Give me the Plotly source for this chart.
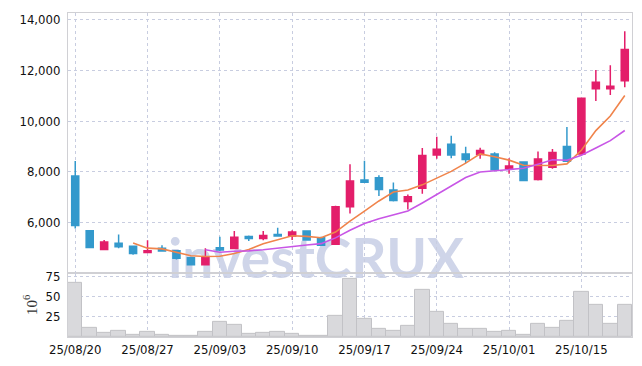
import plotly.graph_objects as go
from plotly.subplots import make_subplots

dates = ["25/08/20","25/08/21","25/08/22","25/08/25","25/08/26","25/08/27","25/08/28","25/08/29",
         "25/09/01","25/09/02","25/09/03","25/09/04","25/09/05","25/09/08","25/09/09","25/09/10",
         "25/09/11","25/09/12","25/09/15","25/09/16","25/09/17","25/09/18","25/09/19","25/09/22",
         "25/09/23","25/09/24","25/09/25","25/09/26","25/09/29","25/09/30","25/10/01","25/10/02",
         "25/10/10","25/10/13","25/10/14","25/10/15","25/10/16","25/10/17","25/10/20"]

open_ = [7830,5660,4920,5170,5050,4800,4970,4870,4600,4320,4990,4960,5440,5360,5520,5460,
         5650,5390,5130,6610,7670,7760,7280,6820,7340,8660,9080,8700,8680,8700,8120,8380,
         7690,8170,9000,8700,11280,11280,11590]
high = [8420,5690,5300,5520,5080,5290,5090,4900,4640,4970,5430,5650,5480,5650,5780,5680,
        5680,5430,6650,8290,8430,7860,7570,7100,8940,9380,9420,8990,8950,8770,8530,8400,
        8800,8900,9770,10920,12020,12210,13550]
low = [5750,4970,4900,4970,4720,4780,4830,4530,4300,4320,4860,4930,5260,5290,5440,5300,
       5290,5060,5100,6350,7550,7040,6820,6500,7130,8510,8530,8340,8510,8040,7920,7640,
       7650,8120,8380,8680,10790,11030,11340]
close = [5870,5000,5220,5030,4760,4870,4860,4580,4320,4610,4900,5410,5360,5480,5460,5610,
         5300,5090,6610,7630,7580,7300,6860,7010,8640,8890,8660,8480,8840,8080,8220,7650,
         8500,8760,8410,10900,11540,11380,12830]

ma5 = [None,None,None,None,5176,4976,4948,4820,4678,4648,4654,4764,4920,5152,5322,5464,
       5442,5388,5614,6048,6442,6842,7196,7276,7478,7740,8012,8336,8702,8590,8456,8254,
       8258,8242,8308,8844,9622,10198,11012]
ma10 = [None]*9 + [4912,4815,4856,4870,4915,4985,5059,5103,5154,5383,5685,5953,6142,6292,
       6445,6763,7091,7427,7766,7989,8034,8098,8133,8297,8472,8449,8650,8938,9228,9627]

volume = [67,11,4.9,7.7,2.4,6.5,2.4,1.2,1.2,6.1,18.7,14.6,4,5.2,6.5,4,1.2,1.2,26,72,22.3,
          9.8,7.7,13.8,58.5,30.5,15.8,9.8,9.8,6.1,7.3,3.2,15.8,11,19.5,56,39.4,15.8,39.4]

price_ticks = [6000, 8000, 10000, 12000, 14000]
price_tick_text = ["6,000", "8,000", "10,000", "12,000", "14,000"]
vol_ticks = [25, 50, 75]
tick_idx = [0, 5, 10, 15, 20, 25, 30, 35]
watermark = "investCRUX"

idx = list(range(len(dates)))

fig = make_subplots(rows=2, cols=1, shared_xaxes=True, vertical_spacing=0,
                    row_heights=[0.802, 0.198])

fig.add_trace(go.Candlestick(x=idx, open=open_, high=high, low=low, close=close,
                             increasing=dict(line=dict(color="#e31e6a", width=1.5), fillcolor="#e31e6a"),
                             decreasing=dict(line=dict(color="#3399cc", width=1.5), fillcolor="#3399cc"),
                             showlegend=False), row=1, col=1)
fig.add_trace(go.Scatter(x=idx, y=ma5, mode="lines", line=dict(color="#f0844c", width=1.6),
                         showlegend=False), row=1, col=1)
fig.add_trace(go.Scatter(x=idx, y=ma10, mode="lines", line=dict(color="#c856e6", width=1.6),
                         showlegend=False), row=1, col=1)
fig.add_trace(go.Bar(x=idx, y=volume, marker=dict(color="#d9d9dc", line=dict(color="#c2c2c6", width=1)),
                     showlegend=False), row=2, col=1)

# watermark drawn below the traces
fig.add_shape(type="rect", xref="paper", yref="paper", x0=0.14, x1=0.74, y0=0.15, y1=0.35,
              line=dict(width=0), fillcolor="rgba(0,0,0,0)", layer="below",
              label=dict(text=watermark, textposition="middle center",
                         font=dict(family="Lato, DejaVu Sans, sans-serif", size=55,
                                   color="#cfd5e9", weight="bold")))

tickfont = dict(family="DejaVu Sans Condensed, Roboto, sans-serif", size=13, color="#111111")
grid = dict(showgrid=True, gridcolor="#c8cde0", griddash="dot", gridwidth=1)
frame = dict(showline=True, linecolor="#d0d0d4", linewidth=1, mirror=True, zeroline=False)

fig.update_xaxes(range=[-0.5, 38.5], tickmode="array", tickvals=tick_idx,
                 ticktext=[dates[i] for i in tick_idx], rangeslider_visible=False,
                 tickfont=tickfont, **grid, **frame)
fig.update_xaxes(showticklabels=False, row=1, col=1)
fig.update_yaxes(range=[4000, 14273], tickmode="array", tickvals=price_ticks,
                 ticktext=price_tick_text, tickfont=tickfont, ticklabelstandoff=4,
                 **grid, **frame, row=1, col=1)
fig.update_yaxes(range=[0, 79.1], tickmode="array", tickvals=vol_ticks, tickfont=tickfont,
                 ticklabelstandoff=4, title=dict(text="10<sup>6</sup>", standoff=4,
                 font=dict(family="Liberation Serif", size=15, color="#333333")),
                 **grid, **frame, row=2, col=1)

fig.update_layout(width=626, height=350, margin=dict(l=60, r=1, t=1, b=21),
                  paper_bgcolor="white", plot_bgcolor="white", bargap=0,
                  showlegend=False)

fig.write_html("out.html")
